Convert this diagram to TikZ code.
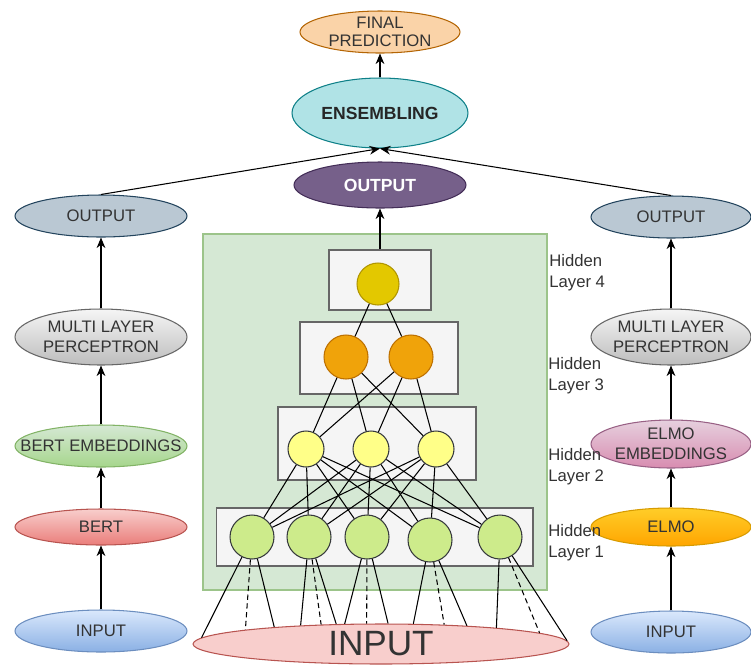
\documentclass[tikz,border=0pt]{standalone}
\usepackage{fontspec}
\setmainfont{Liberation Sans}
\usetikzlibrary{shapes.geometric,arrows.meta}

\definecolor{txtgray}{HTML}{333333}
\definecolor{finfill}{HTML}{FAD3A8}
\definecolor{findraw}{HTML}{B46504}
\definecolor{ensfill}{HTML}{B0E3E6}
\definecolor{ensdraw}{HTML}{0E8088}
\definecolor{purfill}{HTML}{76608A}
\definecolor{purdraw}{HTML}{432D57}
\definecolor{outfill}{HTML}{BAC8D3}
\definecolor{outdraw}{HTML}{23445D}
\definecolor{mlptop}{HTML}{F5F5F5}
\definecolor{mlpbot}{HTML}{BDBDBD}
\definecolor{mlpdraw}{HTML}{666666}
\definecolor{embtop}{HTML}{D5E8D4}
\definecolor{embbot}{HTML}{A6D68C}
\definecolor{embdraw}{HTML}{82B366}
\definecolor{berttop}{HTML}{F8CECC}
\definecolor{bertbot}{HTML}{EA7D7A}
\definecolor{bertdraw}{HTML}{B85450}
\definecolor{intop}{HTML}{DAE8FC}
\definecolor{inbot}{HTML}{8AB0E4}
\definecolor{indraw}{HTML}{6C8EBF}
\definecolor{elmoembtop}{HTML}{E6D0DE}
\definecolor{elmoembbot}{HTML}{D88CB0}
\definecolor{elmoembdraw}{HTML}{996185}
\definecolor{elmotop}{HTML}{FFCD28}
\definecolor{elmobot}{HTML}{FFA500}
\definecolor{elmodraw}{HTML}{D79B00}
\definecolor{bigin}{HTML}{F8CECC}
\definecolor{bigindraw}{HTML}{B85450}
\definecolor{netfill}{HTML}{D5E8D4}
\definecolor{netdraw}{HTML}{9CC48A}
\definecolor{boxfill}{HTML}{F5F5F5}
\definecolor{boxdraw}{HTML}{666666}
\definecolor{goldfill}{HTML}{E3C800}
\definecolor{golddraw}{HTML}{B09500}
\definecolor{orgfill}{HTML}{F0A30A}
\definecolor{orgdraw}{HTML}{BD7000}
\definecolor{lyfill}{HTML}{FFFF88}
\definecolor{lgfill}{HTML}{CDEB8B}
\definecolor{nrndraw}{HTML}{36393D}

\tikzset{
  bub/.style={ellipse, draw, line width=0.6pt, inner xsep=-14pt, inner ysep=-4pt,
    align=center, text=txtgray, font=\fontsize{9.5}{11.5}\selectfont},
  layerbox/.style={rectangle, draw=boxdraw, fill=boxfill, line width=0.6pt},
  neuron/.style={circle, draw=nrndraw, line width=0.6pt, inner sep=0pt},
  conn/.style={line width=0.6pt, draw=black},
  arr/.style={conn, -{Stealth[length=6pt,width=5pt]}},
  hidtxt/.style={anchor=west, align=left, inner xsep=0pt, text=txtgray, font=\fontsize{9.5}{12}\selectfont}
}

\begin{document}
\begin{tikzpicture}[x=0.02cm, y=-0.02cm]
\useasboundingbox (0,0) rectangle (751,664);

\filldraw[fill=netfill, draw=netdraw, line width=0.6pt] (203,234) rectangle (547,590);

\node[bub, fill=finfill, draw=findraw, minimum width=3.2cm, minimum height=0.84cm,
  font=\fontsize{9.5}{10}\selectfont] (final) at (380,32) {FINAL\\PREDICTION};
\node[bub, fill=ensfill, draw=ensdraw, minimum width=3.52cm, minimum height=1.4cm,
  font=\bfseries\fontsize{10}{12}\selectfont, text=black!85] (ens) at (380,113) {ENSEMBLING};
\node[bub, fill=purfill, draw=purdraw, minimum width=3.44cm, minimum height=0.92cm,
  font=\bfseries\fontsize{10}{12}\selectfont, text=white] (out) at (380,185) {OUTPUT};

\node[bub, minimum width=3.44cm, minimum height=0.84cm, fill=outfill, draw=outdraw] (lout) at (101,216) {OUTPUT};
\node[bub, minimum width=3.44cm, minimum height=1.12cm, top color=mlptop, bottom color=mlpbot, draw=mlpdraw] (lmlp) at (101,337) {MULTI LAYER\\PERCEPTRON};
\node[bub, minimum width=3.44cm, minimum height=0.84cm, top color=embtop, bottom color=embbot, draw=embdraw] (lemb) at (101,446) {BERT EMBEDDINGS};
\node[bub, minimum width=3.44cm, minimum height=0.72cm, top color=berttop, bottom color=bertbot, draw=bertdraw] (bert) at (101,527) {BERT};
\node[bub, minimum width=3.44cm, minimum height=0.84cm, top color=intop, bottom color=inbot, draw=indraw] (lin) at (101,631) {INPUT};

\node[bub, minimum width=3.2cm, minimum height=0.84cm, fill=outfill, draw=outdraw] (rout) at (671,217) {OUTPUT};
\node[bub, minimum width=3.2cm, minimum height=1.12cm, top color=mlptop, bottom color=mlpbot, draw=mlpdraw] (rmlp) at (671,337) {MULTI LAYER\\PERCEPTRON};
\node[bub, minimum width=3.2cm, minimum height=0.96cm, top color=elmoembtop, bottom color=elmoembbot, draw=elmoembdraw] (remb) at (671,444) {ELMO\\EMBEDDINGS};
\node[bub, minimum width=3.2cm, minimum height=0.76cm, top color=elmotop, bottom color=elmobot, draw=elmodraw] (elmo) at (671,527) {ELMO};
\node[bub, minimum width=3.2cm, minimum height=0.84cm, top color=intop, bottom color=inbot, draw=indraw] (rin) at (671,632) {INPUT};

\node[bub, fill=bigin, draw=bigindraw, minimum width=7.52cm, minimum height=0.8cm,
  font=\fontsize{20}{24}\selectfont] (in) at (381,644) {INPUT};

\node[layerbox, minimum width=2.04cm, minimum height=1.2cm] (box4) at (380,280) {};
\node[layerbox, minimum width=3.16cm, minimum height=1.44cm] (box3) at (379,358) {};
\node[layerbox, minimum width=3.96cm, minimum height=1.46cm] (box2) at (377,443.5) {};
\node[layerbox, minimum width=6.34cm, minimum height=1.16cm] (box1) at (374.5,537) {};

\node[neuron, fill=goldfill, draw=golddraw, minimum size=0.84cm] (h4) at (378,284) {};
\node[neuron, fill=orgfill, draw=orgdraw, minimum size=0.88cm] (h3a) at (346,357) {};
\node[neuron, fill=orgfill, draw=orgdraw, minimum size=0.88cm] (h3b) at (411,357) {};
\node[neuron, fill=lyfill, minimum size=0.72cm] (h2a) at (306,449) {};
\node[neuron, fill=lyfill, minimum size=0.72cm] (h2b) at (371,449) {};
\node[neuron, fill=lyfill, minimum size=0.72cm] (h2c) at (436,449) {};
\node[neuron, fill=lgfill, minimum size=0.88cm] (h1a) at (252,537) {};
\node[neuron, fill=lgfill, minimum size=0.88cm] (h1b) at (309,537) {};
\node[neuron, fill=lgfill, minimum size=0.88cm] (h1c) at (367,537) {};
\node[neuron, fill=lgfill, minimum size=0.88cm] (h1d) at (430,540) {};
\node[neuron, fill=lgfill, minimum size=0.88cm] (h1e) at (500,537) {};

\node[hidtxt] (lab4) at (549,273) {Hidden\\Layer 4};
\node[hidtxt] (lab3) at (548,376) {Hidden\\Layer 3};
\node[hidtxt] (lab2) at (548,467) {Hidden\\Layer 2};
\node[hidtxt] (lab1) at (548,543) {Hidden\\Layer 1};

\foreach \b in {a,b}
  \draw[conn] (h4) -- (h3\b);
\foreach \a in {a,b}
  \foreach \b in {a,b,c}
    \draw[conn] (h3\a) -- (h2\b);
\foreach \a in {a,b,c}
  \foreach \b in {a,b,c,d,e}
    \draw[conn] (h2\a) -- (h1\b);
\foreach \n/\p/\q/\r in {a/178/174/171, b/167/162/156, c/151/125/71, d/32/17/12, e/8/4/1}{
  \draw[conn] (h1\n) -- (in.\p);
  \draw[conn, dashed, dash pattern=on 3pt off 2pt] (h1\n) -- (in.\q);
  \draw[conn] (h1\n) -- (in.\r);
}

\draw[arr] (box4) -- (out);
\draw[arr] (ens) -- (final);
\draw[arr] (lout.north) -- (ens.south);
\draw[arr] (rout.north) -- (ens.south);

\draw[arr] (lin) -- (bert);
\draw[arr] (bert) -- (lemb);
\draw[arr] (lemb) -- (lmlp);
\draw[arr] (lmlp) -- (lout);

\draw[arr] (rin) -- (elmo);
\draw[arr] (elmo) -- (remb);
\draw[arr] (remb) -- (rmlp);
\draw[arr] (rmlp) -- (rout);

\end{tikzpicture}
\end{document}
